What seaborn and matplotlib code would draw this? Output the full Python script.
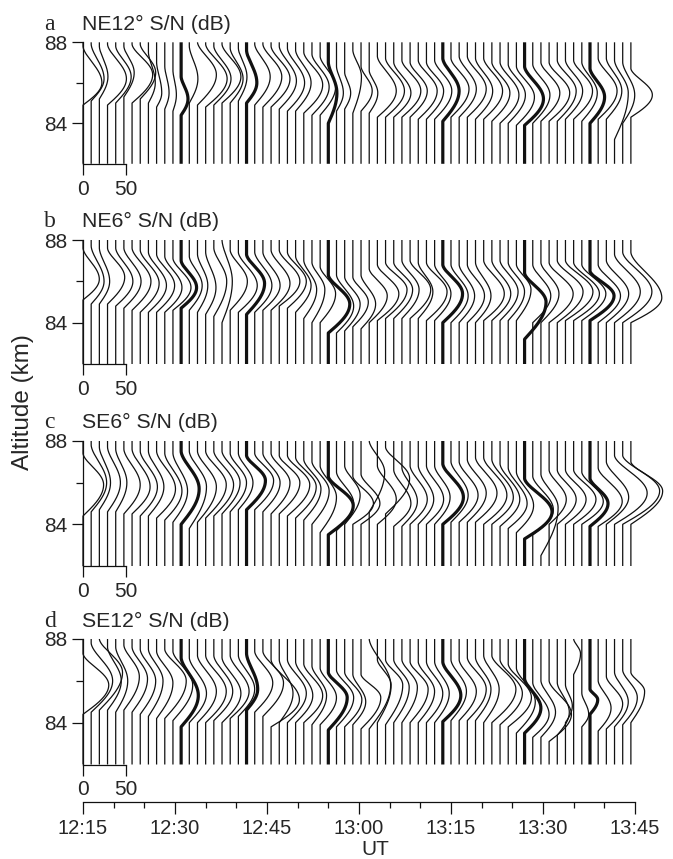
import numpy as np
import pandas as pd
import matplotlib
matplotlib.use("Agg")
import matplotlib.pyplot as plt
import seaborn as sns

# ---------------- data ----------------
# profile start times, seconds after 12:15:00 UT
profile_seconds = [0, 80, 160, 240, 320, 400, 480, 560, 640, 720, 800, 880, 960, 1040,
                   1120, 1200, 1280, 1360, 1440, 1520, 1600, 1680, 1760, 1840, 1920, 2000,
                   2080, 2160, 2240, 2320, 2400, 2480, 2560, 2640, 2720, 2800, 2880, 2960,
                   3040, 3120, 3200, 3280, 3360, 3440, 3520, 3600, 3680, 3760, 3840, 3920,
                   4000, 4080, 4160, 4240, 4320, 4400, 4480, 4560, 4640, 4720, 4800, 4880,
                   4960, 5040, 5120, 5200, 5280, 5360]
thick_profiles = [12, 20, 30, 44, 54, 62]

panel_letters = ["a", "b", "c", "d"]
panel_titles = ["NE12° S/N (dB)", "NE6° S/N (dB)", "SE6° S/N (dB)", "SE12° S/N (dB)"]

# NE12 : peak S/N (dB), peak altitude, bottom and top of echo layer (km)
ne12_peak_db = [22, 15, 10, 22, 18, 12, 24, 18, 8, 6, 5, 4, 8, 10, 22, 25, 20, 22, 15, 10,
                12, 18, 22, 22, 20, 20, 18, 22, 20, 18, 10, 8, 7, 10, 13, 10, 22, 22, 20, 22,
                20, 22, 20, 20, 19, 21, 20, 22, 20, 22, 21, 22, 20, 21, 22, 20, 22, 24, 22, 20,
                22, 18, 17, 22, 18, 16, 14, 25]
ne12_peak_km = [86.0, 86.2, 86.3, 86.2, 86.3, 86.5, 86.4, 86.5, 86.0, 85.5, 85.5, 85.4, 85.2,
                86.2, 86.4, 86.2, 86.2, 86.3, 86.2, 86.3, 86.0, 86.3, 86.3, 86.2, 86.1, 86.0,
                86.0, 85.9, 85.8, 85.8, 85.5, 85.5, 85.5, 86.3, 85.6, 85.5, 85.6, 85.6, 85.5,
                85.6, 85.6, 85.6, 85.6, 85.6, 85.6, 85.7, 85.7, 85.7, 85.6, 85.6, 85.5, 85.4,
                85.4, 85.3, 85.2, 85.4, 85.5, 85.5, 85.6, 85.6, 85.6, 85.5, 85.3, 85.6, 85.6,
                85.5, 85.4, 85.4]
ne12_base_km = [84.9, 85.1, 85.2, 84.9, 85.0, 85.3, 85.0, 85.2, 85.0, 84.8, 84.7, 84.6, 84.4,
                85.0, 84.9, 84.8, 84.9, 85.0, 85.0, 85.1, 85.0, 84.9, 84.8, 84.8, 84.7, 84.6,
                84.6, 84.5, 84.4, 84.4, 84.0, 84.6, 84.7, 84.5, 84.6, 84.5, 84.3, 84.3, 84.3,
                84.3, 84.3, 84.2, 84.2, 84.2, 84.1, 84.3, 84.3, 84.3, 84.2, 84.2, 84.1, 84.0,
                84.0, 83.9, 83.9, 84.0, 84.1, 84.1, 84.1, 84.2, 84.2, 84.1, 84.0, 84.2, 84.2,
                83.2, 84.0, 84.3]
ne12_top_km = [87.8, 87.9, 87.8, 87.9, 87.8, 87.8, 87.9, 87.9, 87.5, 87.0, 86.8, 86.6, 86.3,
               87.8, 88.0, 87.9, 87.8, 87.9, 87.7, 87.7, 87.6, 87.9, 87.9, 87.8, 87.8, 87.7,
               87.6, 87.5, 87.4, 87.3, 87.0, 86.8, 86.5, 87.6, 86.8, 86.6, 87.3, 87.2, 87.0,
               87.1, 87.0, 87.1, 87.0, 87.1, 87.2, 87.2, 87.3, 87.3, 87.2, 87.2, 87.0, 87.0,
               86.9, 86.8, 86.8, 86.9, 87.0, 87.0, 87.1, 87.1, 87.1, 87.0, 86.7, 87.2, 87.2,
               87.1, 87.0, 86.7]

# NE6
ne6_peak_db = [19, 15, 12, 20, 20, 20, 22, 22, 21, 21, 20, 21, 18, 15, 12, 12, 15, 12, 20, 22,
               21, 20, 20, 22, 24, 22, 18, 15, 15, 18, 25, 20, 18, 18, 17, 21, 25, 25, 22, 20,
               24, 17, 24, 19, 23, 20, 18, 20, 18, 24, 22, 21, 19, 17, 25, 21, 21, 28, 30, 32,
               30, 28, 28, 26, 26, 30, 34, 36]
ne6_peak_km = [86.1, 86.0, 86.0, 86.2, 86.0, 86.0, 86.0, 85.9, 85.8, 85.8, 85.7, 85.7, 85.7,
               85.8, 85.8, 85.7, 86.0, 86.0, 86.0, 85.8, 85.9, 85.8, 85.8, 85.9, 86.0, 86.0,
               85.8, 85.6, 85.6, 85.4, 84.9, 84.8, 84.9, 85.0, 84.9, 85.3, 85.4, 85.6, 85.6,
               85.6, 85.6, 85.5, 85.5, 85.4, 85.4, 85.3, 85.3, 85.3, 85.3, 85.4, 85.4, 85.5,
               85.5, 85.6, 85.0, 85.3, 85.4, 85.4, 85.5, 85.5, 85.4, 85.4, 85.3, 85.3, 85.4,
               85.5, 85.5, 85.2]
ne6_base_km = [85.1, 84.9, 84.9, 84.9, 84.8, 84.7, 84.6, 84.5, 84.5, 84.5, 84.5, 84.6, 84.7,
               84.6, 84.5, 84.4, 84.3, 84.0, 84.6, 84.5, 84.4, 84.5, 84.6, 84.6, 84.8, 84.7,
               84.5, 84.2, 84.0, 84.0, 83.5, 83.5, 83.6, 83.8, 83.7, 84.0, 84.1, 84.2, 84.2,
               84.2, 84.2, 84.2, 84.1, 84.1, 84.0, 84.0, 84.0, 84.0, 84.0, 84.1, 84.1, 84.1,
               84.1, 84.1, 83.2, 84.0, 84.0, 84.0, 84.0, 84.1, 84.1, 84.1, 84.1, 84.0, 84.0,
               84.0, 84.0, 84.0]
ne6_top_km = [87.6, 87.7, 87.6, 87.6, 87.6, 87.6, 87.6, 87.5, 87.4, 87.3, 87.2, 87.1, 87.0,
              87.2, 87.3, 87.4, 87.6, 88.0, 87.5, 87.4, 87.3, 87.4, 87.4, 87.5, 87.5, 87.4,
              87.2, 87.0, 86.9, 86.7, 86.3, 86.3, 86.2, 86.2, 86.3, 86.6, 86.8, 86.9, 86.9,
              87.0, 87.0, 86.9, 86.9, 86.8, 86.8, 86.8, 86.8, 86.8, 86.9, 87.0, 87.0, 87.0,
              86.9, 86.8, 86.4, 86.8, 86.9, 86.9, 87.0, 87.0, 86.9, 86.8, 86.5, 86.8, 87.0,
              87.3, 87.4, 87.4]

# SE6
se6_peak_db = [24, 18, 13, 15, 13, 19, 21, 20, 18, 22, 20, 17, 21, 20, 22, 24, 23, 21, 19, 17,
               22, 22, 20, 22, 24, 26, 24, 20, 20, 19, 29, 20, 18, 24, 22, 18, 22, 28, 20, 18,
               20, 18, 20, 18, 24, 20, 22, 22, 25, 27, 25, 23, 22, 20, 32, 24, 20, 20, 22, 24,
               26, 25, 21, 28, 26, 38, 43, 37]
se6_peak_km = [85.9, 86.0, 86.0, 86.0, 86.0, 85.9, 85.8, 85.8, 85.8, 85.7, 85.6, 85.6, 85.7,
               85.8, 85.8, 85.9, 85.9, 86.0, 86.0, 86.0, 86.1, 86.1, 86.0, 86.0, 86.0, 85.9,
               85.8, 85.7, 85.6, 85.3, 84.9, 85.0, 85.4, 85.0, 85.0, 86.5, 85.2, 86.2, 85.0,
               85.1, 85.2, 85.2, 85.2, 85.3, 85.3, 85.4, 85.4, 85.5, 85.5, 85.4, 85.3, 85.2,
               85.0, 84.9, 84.6, 84.7, 84.8, 85.2, 85.2, 85.2, 85.2, 85.1, 85.0, 85.1, 85.3,
               85.5, 85.6, 85.6]
se6_base_km = [84.4, 84.6, 84.7, 84.6, 84.6, 84.5, 84.5, 84.4, 84.4, 84.3, 84.2, 84.1, 84.0,
               83.8, 84.1, 84.3, 84.4, 84.5, 84.6, 84.7, 84.7, 84.7, 84.6, 84.5, 84.5, 84.4,
               84.3, 84.2, 84.0, 83.6, 83.5, 83.7, 84.0, 84.0, 84.0, 84.6, 84.0, 84.5, 83.9,
               83.9, 84.0, 84.0, 84.0, 84.0, 84.0, 84.1, 84.1, 84.1, 84.1, 84.0, 84.0, 83.9,
               83.8, 83.6, 83.3, 83.5, 82.5, 84.0, 84.0, 84.0, 84.0, 84.0, 83.9, 83.9, 84.0,
               84.0, 84.0, 84.0]
se6_top_km = [87.4, 87.8, 87.7, 87.7, 87.6, 87.6, 87.6, 87.5, 87.5, 87.5, 87.4, 87.4, 87.5,
              87.5, 87.5, 87.5, 87.5, 87.5, 87.4, 87.4, 87.3, 87.4, 87.4, 87.4, 87.3, 87.3,
              87.2, 87.1, 87.0, 86.8, 86.3, 86.5, 86.8, 86.3, 86.4, 88.0, 86.8, 87.7, 86.6,
              86.7, 86.8, 86.8, 86.8, 86.8, 86.9, 87.0, 87.0, 87.1, 87.2, 87.2, 87.1, 86.9,
              86.7, 86.5, 86.2, 86.3, 86.4, 86.6, 86.6, 86.6, 86.6, 86.5, 86.2, 86.7, 87.0,
              87.3, 87.3, 87.0]

# SE12
se12_peak_db = [30, 25, 27, 16, 14, 18, 18, 18, 17, 19, 25, 23, 20, 20, 22, 24, 22, 22, 22, 19,
                13, 21, 24, 33, 16, 22, 20, 22, 17, 19, 22, 20, 20, 15, 23, 25, 16, 20, 18, 18,
                21, 19, 19, 17, 21, 18, 20, 22, 18, 18, 28, 26, 27, 22, 19, 19, 17, 26, 14, 8,
                8, 8, 9, 15, 19, 16, 17, 16]
se12_peak_km = [85.8, 86.0, 86.4, 86.0, 86.0, 86.2, 86.1, 86.0, 86.0, 85.9, 86.0, 85.8, 85.3,
                85.4, 85.5, 85.5, 85.5, 85.4, 85.5, 85.6, 85.6, 85.9, 85.9, 85.1, 85.4, 85.4,
                85.3, 85.3, 85.3, 85.2, 85.2, 85.2, 85.1, 85.0, 85.2, 85.8, 85.8, 85.8, 85.7,
                85.7, 85.6, 85.5, 85.4, 85.4, 85.3, 85.5, 85.5, 85.6, 85.6, 85.6, 85.6, 85.4,
                85.2, 85.0, 84.7, 84.4, 84.5, 84.4, 84.5, 84.8, 87.3, 84.4, 85.1, 84.7, 84.9,
                85.0, 85.2, 85.5]
se12_base_km = [84.4, 84.5, 84.6, 84.6, 84.5, 84.6, 84.5, 84.4, 84.3, 84.2, 84.2, 84.1, 83.8,
                84.0, 84.0, 84.0, 84.1, 84.0, 84.2, 84.3, 84.6, 84.5, 84.3, 83.8, 84.0, 84.0,
                84.0, 84.0, 83.9, 83.9, 83.65, 83.8, 83.8, 83.9, 83.7, 83.7, 84.0, 83.9, 84.0,
                84.0, 84.0, 84.0, 84.0, 84.0, 84.05, 84.1, 84.1, 84.1, 84.1, 84.0, 84.0, 83.9,
                83.8, 83.5, 83.5, 83.3, 83.3, 83.1, 83.4, 84.0, 86.3, 83.8, 84.4, 83.6, 83.7,
                83.8, 83.9, 84.0]
se12_top_km = [87.3, 87.8, 88.0, 87.6, 87.6, 87.7, 87.6, 87.5, 87.5, 87.4, 87.5, 87.4, 87.1,
               87.1, 87.2, 87.2, 87.2, 87.1, 87.2, 87.2, 87.3, 87.4, 87.4, 87.0, 87.0, 87.0,
               86.9, 86.8, 86.7, 86.6, 86.4, 86.5, 86.4, 86.3, 86.3, 88.0, 87.0, 87.0, 87.0,
               87.0, 86.9, 86.9, 86.9, 86.9, 86.9, 87.0, 87.0, 87.1, 87.1, 87.2, 87.2, 87.0,
               86.8, 86.6, 86.1, 85.9, 86.0, 86.0, 85.9, 85.8, 88.0, 85.4, 85.6, 86.0, 86.2,
               86.4, 86.5, 86.4]

alt_tick_values = [84, 88]
alt_tick_labels = ["84", "88"]
scale_bar_db = [0, 50]
scale_bar_labels = ["0", "50"]
time_tick_minutes = [0, 15, 30, 45, 60, 75, 90]
time_tick_labels = ["12:15", "12:30", "12:45", "13:00", "13:15", "13:30", "13:45"]

panel_data = [
    (ne12_peak_db, ne12_peak_km, ne12_base_km, ne12_top_km),
    (ne6_peak_db, ne6_peak_km, ne6_base_km, ne6_top_km),
    (se6_peak_db, se6_peak_km, se6_base_km, se6_top_km),
    (se12_peak_db, se12_peak_km, se12_base_km, se12_top_km),
]

# ---------------- geometry / style ----------------
W, H = 673, 859
DB_TO_MIN = 0.14          # horizontal scale: dB shown in minutes of the time axis
ALT = np.linspace(82.0, 88.0, 361)
X_LEFT_PX, PX_PER_MIN = 83.0, 6.133
X_RIGHT_PX = 668.0
XMAX = (X_RIGHT_PX - X_LEFT_PX) / PX_PER_MIN
panel_px = [(42.3, 163.8), (240.0, 364.0), (441.0, 566.0), (639.0, 764.5)]
title_baseline_px = [30, 227, 428, 627]
RISE_EXP, FALL_EXP = 1.0, 1.6   # curve roundness of the drawn layer

sns.set_style("white")
plt.rcParams["font.family"] = ["Liberation Sans", "DejaVu Sans"]
plt.rcParams["axes.linewidth"] = 0.9


def layer_profile(alt, peak_db, peak_km, base_km, top_km):
    s = np.zeros_like(alt)
    rise = (alt >= base_km) & (alt <= peak_km)
    s[rise] = peak_db * np.sin(0.5 * np.pi * (alt[rise] - base_km) / (peak_km - base_km)) ** RISE_EXP
    fall = (alt > peak_km) & (alt <= top_km)
    s[fall] = peak_db * np.cos(0.5 * np.pi * (alt[fall] - peak_km) / (top_km - peak_km)) ** FALL_EXP
    return s


fig = plt.figure(figsize=(W / 100, H / 100), dpi=100)
ink = "#111111"

for p, (pk_db, pk_km, lo_km, hi_km) in enumerate(panel_data):
    top_px, bot_px = panel_px[p]
    ax = fig.add_axes([X_LEFT_PX / W, 1 - bot_px / H,
                       (X_RIGHT_PX - X_LEFT_PX) / W, (bot_px - top_px) / H])
    rows = []
    for i, sec in enumerate(profile_seconds):
        snr = layer_profile(ALT, pk_db[i], pk_km[i], lo_km[i], hi_km[i])
        rows.append(pd.DataFrame({
            "x": sec / 60.0 + snr * DB_TO_MIN,
            "alt": ALT,
            "profile": i,
            "weight": "thick" if i in thick_profiles else "thin",
        }))
    df = pd.concat(rows, ignore_index=True)
    sns.lineplot(data=df, x="x", y="alt", units="profile", estimator=None, sort=False,
                 orient="y", size="weight", sizes={"thin": 0.9, "thick": 2.3},
                 color=ink, legend=False, ax=ax)
    for ln in ax.lines:
        ln.set_clip_on(False)
        ln.set_solid_capstyle("butt")

    ax.set_xlim(0, XMAX)
    ax.set_ylim(82.0, 88.0)
    ax.set_xlabel("")
    ax.set_ylabel("")
    for side in ("top", "right"):
        ax.spines[side].set_visible(False)
    ax.spines["left"].set_bounds(82, 88)
    ax.spines["bottom"].set_bounds(0, scale_bar_db[1] * DB_TO_MIN)
    ax.spines["left"].set_color(ink)
    ax.spines["bottom"].set_color(ink)

    ax.set_yticks(alt_tick_values)
    ax.set_yticklabels(alt_tick_labels)
    ax.set_yticks([86], minor=True)
    ax.tick_params(axis="y", which="major", direction="out", length=8, width=0.9,
                   pad=3.5, labelsize=15, left=True, color=ink)
    ax.tick_params(axis="y", which="minor", direction="out", length=5, width=0.9,
                   left=True, color=ink)
    ax.set_xticks([v * DB_TO_MIN for v in scale_bar_db])
    ax.set_xticklabels(scale_bar_labels)
    ax.tick_params(axis="x", which="major", direction="out", length=8, width=0.9,
                   pad=3.5, labelsize=15, bottom=True, color=ink)

    base_y = 1 - title_baseline_px[p] / H
    fig.text(44 / W, base_y, panel_letters[p], ha="left", va="baseline",
             fontsize=17, family=["Liberation Serif", "DejaVu Serif"])
    fig.text(82 / W, base_y, panel_titles[p], ha="left", va="baseline", fontsize=15.3)

# time axis at the bottom
axis_y_px = 802.0
ax_t = fig.add_axes([X_LEFT_PX / W, 1 - axis_y_px / H, (X_RIGHT_PX - X_LEFT_PX) / W, 0.0005])
ax_t.set_xlim(0, XMAX)
ax_t.set_yticks([])
for side in ("top", "right", "left"):
    ax_t.spines[side].set_visible(False)
ax_t.spines["bottom"].set_bounds(0, 90)
ax_t.spines["bottom"].set_color(ink)
ax_t.set_xticks(time_tick_minutes)
ax_t.set_xticklabels(time_tick_labels)
ax_t.set_xticks(list(range(0, 91, 5)), minor=True)
ax_t.tick_params(axis="x", which="major", direction="out", length=8.5, width=0.9,
                 pad=4, labelsize=14.5, bottom=True, color=ink)
ax_t.tick_params(axis="x", which="minor", direction="out", length=4, width=0.9,
                 bottom=True, color=ink)
ax_t.set_xlabel("UT", fontsize=15, labelpad=1)
ax_t.patch.set_alpha(0)

fig.text(23 / W, 1 - 402 / H, "Altitude (km)", rotation=90, ha="center", va="center",
         fontsize=17.5)

fig.savefig("out.png", dpi=100, facecolor="white")
